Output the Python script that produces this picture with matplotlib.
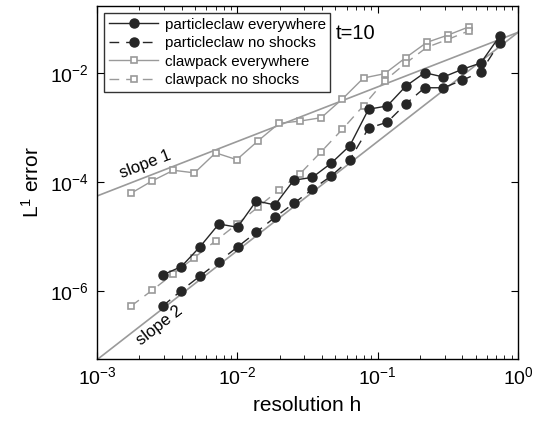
import matplotlib
matplotlib.use("Agg")
import matplotlib.pyplot as plt

plt.rcParams["font.family"] = ["Liberation Sans", "DejaVu Sans"]
plt.rcParams["mathtext.fontset"] = "custom"
plt.rcParams["mathtext.rm"] = "Liberation Sans"
plt.rcParams["mathtext.it"] = "Liberation Sans:italic"
plt.rcParams["mathtext.bf"] = "Liberation Sans:bold"

# clawpack resolutions (h) and errors
claw_h = [0.00175, 0.00247, 0.0035, 0.00495, 0.0070, 0.0099, 0.014, 0.0198, 0.028,
          0.0396, 0.056, 0.0792, 0.112, 0.158, 0.224, 0.317, 0.448]
claw_all = [6.2e-5, 1.04e-4, 1.63e-4, 1.46e-4, 3.4e-4, 2.55e-4, 5.6e-4, 1.18e-3, 1.3e-3,
            1.5e-3, 3.3e-3, 8.0e-3, 9.6e-3, 1.88e-2, 3.6e-2, 4.9e-2, 6.95e-2]
claw_noshock = [5.3e-7, 1.03e-6, 2.06e-6, 4.1e-6, 8.3e-6, 1.67e-5, 3.43e-5, 7.1e-5, 1.41e-4,
                3.57e-4, 9.2e-4, 2.49e-3, 7.1e-3, 1.49e-2, 2.92e-2, 4.09e-2, 5.87e-2]

# particleclaw resolutions (h) and errors
pc_h = [0.00294, 0.00399, 0.00543, 0.00738, 0.01003, 0.01364, 0.01854, 0.0252, 0.03425,
        0.04656, 0.0633, 0.086, 0.1169, 0.1589, 0.2161, 0.2937, 0.3992, 0.5427, 0.7377]
pc_all = [1.97e-6, 2.8e-6, 6.5e-6, 1.69e-5, 1.47e-5, 4.47e-5, 3.77e-5, 1.07e-4, 1.21e-4,
          2.19e-4, 4.6e-4, 2.14e-3, 2.46e-3, 5.7e-3, 1.0e-2, 8.34e-3, 1.15e-2, 1.51e-2, 4.65e-2]
pc_noshock = [5.3e-7, 1.02e-6, 1.89e-6, 3.45e-6, 6.42e-6, 1.19e-5, 2.25e-5, 4.02e-5, 7.3e-5,
              1.28e-4, 2.55e-4, 9.6e-4, 1.24e-3, 2.7e-3, 5.3e-3, 5.3e-3, 7.26e-3, 1.03e-2, 3.54e-2]

# reference slopes
slope_h = [1e-3, 1.0]
slope1 = [5.5e-5, 5.5e-2]
slope2 = [5.5e-8, 5.5e-2]

BLACK = "#262626"
GRAY = "#9a9a9a"
DASH = (0, (7, 5))

fig = plt.figure(figsize=(5.33, 4.26), dpi=100)
ax = fig.add_axes([0.182, 0.1566, 0.79, 0.83])

ax.plot(slope_h, slope1, color=GRAY, lw=1.2)
ax.plot(slope_h, slope2, color=GRAY, lw=1.2)

ax.plot(pc_h, pc_all, "-", color=BLACK, lw=1.0, marker="o", ms=6.5,
        mfc=BLACK, mec=BLACK, label="particleclaw everywhere", zorder=4)
ax.plot(pc_h, pc_noshock, linestyle=DASH, color=BLACK, lw=1.0, marker="o", ms=6.5,
        mfc=BLACK, mec=BLACK, label="particleclaw no shocks", zorder=4)
ax.plot(claw_h, claw_all, "-", color=GRAY, lw=1.0, marker="s", ms=4,
        mfc="white", mec=GRAY, mew=1.2, label="clawpack everywhere", zorder=3)
ax.plot(claw_h, claw_noshock, linestyle=DASH, color=GRAY, lw=1.0, marker="s", ms=4,
        mfc="white", mec=GRAY, mew=1.2, label="clawpack no shocks", zorder=3)

ax.set_xscale("log")
ax.set_yscale("log")
ax.set_xlim(1e-3, 1)
ax.set_ylim(5.6e-8, 0.169)
ax.set_yticks([1e-6, 1e-4, 1e-2])
ax.yaxis.set_minor_locator(matplotlib.ticker.NullLocator())

ax.tick_params(which="both", direction="in", top=True, right=True, labelsize=14)
ax.tick_params(which="major", length=5, width=0.8)
ax.tick_params(which="minor", length=3, width=0.6)
ax.tick_params(axis="x", pad=5)
ax.tick_params(axis="y", pad=6)
for s in ax.spines.values():
    s.set_linewidth(1.0)

ax.set_xlabel("resolution h", fontsize=15, labelpad=6)
ax.set_ylabel(r"$\mathregular{L^1}$ error", fontsize=15, labelpad=5)

ax.text(0.0022, 2.1e-4, "slope 1", fontsize=12, rotation=21,
        ha="center", va="center")
ax.text(0.0028, 2.3e-7, "slope 2", fontsize=12, rotation=38,
        ha="center", va="center")
ax.text(0.0505, 0.053, "t=10", fontsize=14.5, ha="left", va="center")

leg = ax.legend(loc="upper left", bbox_to_anchor=(0.0166, 0.979), borderaxespad=0,
                fontsize=10.9, handlelength=3.3, labelspacing=0.3, borderpad=0.3,
                handletextpad=0.4, frameon=True, fancybox=False)
leg.get_frame().set_edgecolor("black")
leg.get_frame().set_linewidth(1.0)

fig.savefig("out.png", dpi=100)
